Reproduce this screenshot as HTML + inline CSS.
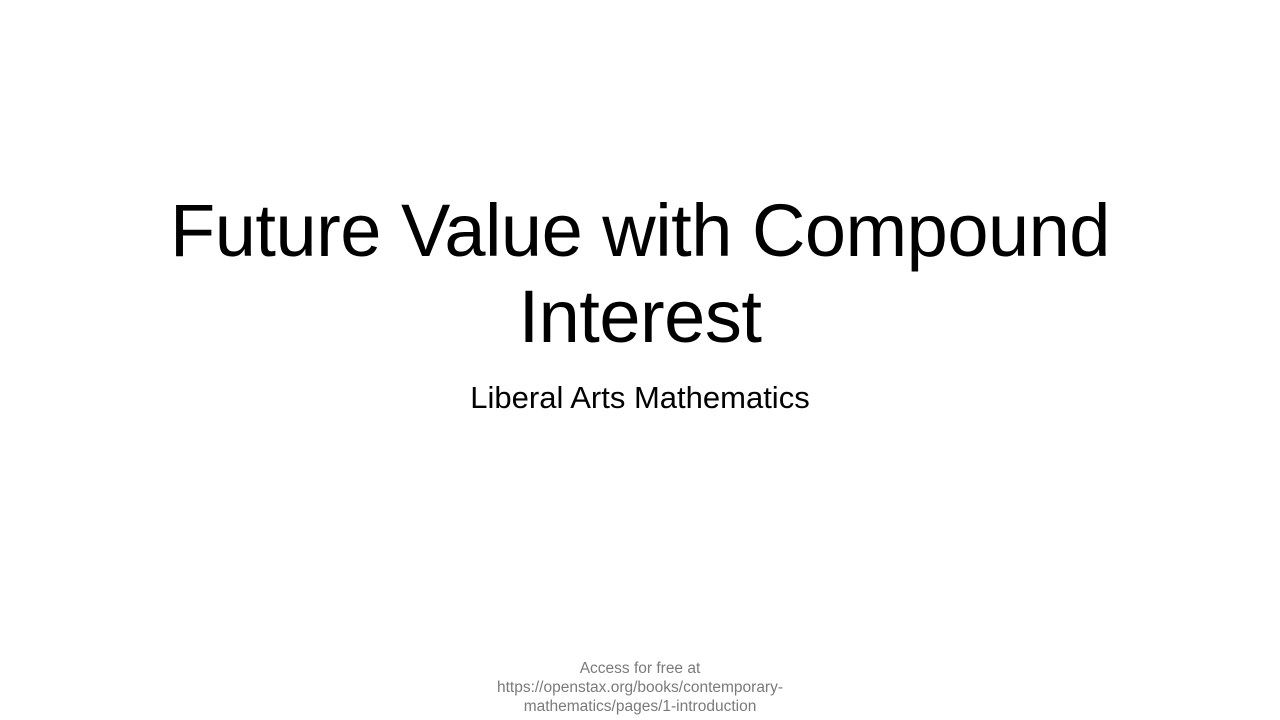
<!DOCTYPE html>
<html>
<head>
<meta charset="utf-8">
<style>
  html, body { margin: 0; padding: 0; }
  body { width: 1280px; height: 720px; background: #ffffff; position: relative; overflow: hidden;
         font-family: "Liberation Sans", sans-serif; color: #000; }
  .title { position: absolute; left: 0; width: 1280px; top: 188px; text-align: center;
           font-size: 74px; line-height: 86px; letter-spacing: -0.5px; }
  .subtitle { position: absolute; left: 0; width: 1280px; top: 379px; text-align: center;
              font-size: 31px; line-height: 38px; }
  .footer { position: absolute; left: 400px; width: 480px; top: 659px; text-align: center;
            font-size: 15.5px; line-height: 19px; color: #7a7a7a; }
</style>
</head>
<body>
  <div class="title">Future Value with Compound<br>Interest</div>
  <div class="subtitle">Liberal Arts Mathematics</div>
  <div class="footer">Access for free at<br>https://openstax.org/books/contemporary-<br>mathematics/pages/1-introduction</div>
</body>
</html>
